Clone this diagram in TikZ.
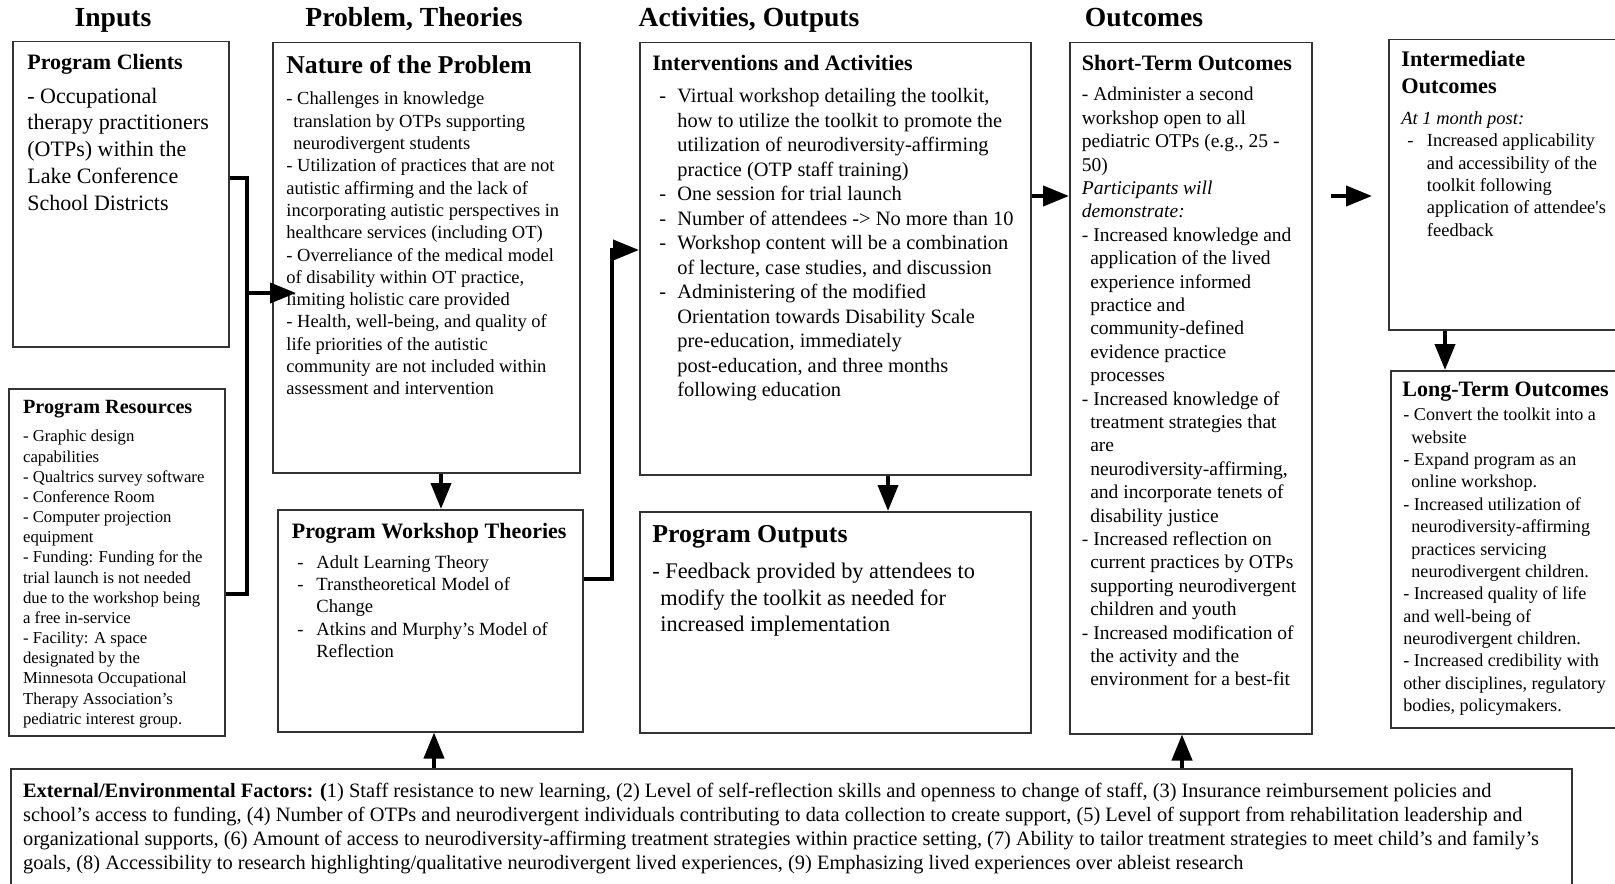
\documentclass[tikz,border=0pt]{standalone}
\usepackage{fontspec}
\setmainfont{Liberation Serif}
\usetikzlibrary{arrows.meta}

\newcommand{\fsz}[2]{\fontsize{#1}{#2}\selectfont}
\newcommand{\bulletdash}[1]{\makebox[#1][l]{-}}
\newcommand{\hangin}[1]{\hspace*{#1}}

\begin{document}
\begin{tikzpicture}[x=0.5pt, y=-0.5pt,
    box/.style={draw=black!80, line width=0.75pt, anchor=north west, inner sep=0pt},
    txt/.style={anchor=north west, inner sep=0pt, align=left},
    head/.style={font=\fsz{13.8}{16}\bfseries, inner sep=0pt, anchor=base},
    link/.style={line width=2pt},
    flow/.style={line width=2pt, -{Triangle[length=13pt, width=10pt]}}]
    \useasboundingbox (0,0) rectangle (1615,883);

    % column headings
    \node[head] (hinputs) at (113,27) {Inputs};
    \node[head] (hproblem) at (414,27) {Problem, Theories};
    \node[head] (hactivities) at (749,27) {Activities, Outputs};
    \node[head] (houtcomes) at (1144,27) {Outcomes};

    % boxes
    \node[box, minimum width=108pt, minimum height=152.5pt] (clients) at (12,41) {};
    \node[box, minimum width=108pt, minimum height=173.5pt] (resources) at (8,388) {};
    \node[box, minimum width=153.5pt, minimum height=215pt] (problem) at (272,42) {};
    \node[box, minimum width=152.5pt, minimum height=111pt] (theories) at (277,509) {};
    \node[box, minimum width=195.5pt, minimum height=216pt] (activities) at (639,42) {};
    \node[box, minimum width=195.5pt, minimum height=110.5pt] (outputs) at (639,511) {};
    \node[box, minimum width=121pt, minimum height=345.5pt] (shortterm) at (1069,42) {};
    \node[box, minimum width=125pt, minimum height=145pt] (interm) at (1388,39) {};
    \node[box, minimum width=125pt, minimum height=178.5pt] (longterm) at (1390,370) {};
    \node[box, minimum width=780.5pt, minimum height=65pt] (external) at (10,768) {};

    % inputs
    \node[txt, font=\fsz{11}{13.4}\bfseries] (clientsT) at (27,53.5) {Program Clients};
    \node[txt, font=\fsz{11}{13.4}] (clientsB) at (27,87.5) {- Occupational\\therapy practitioners\\(OTPs) within the\\Lake Conference\\School Districts};
    \node[txt, font=\fsz{10.1}{12}\bfseries] (resourcesT) at (22.7,400) {Program Resources};
    \node[txt, font=\fsz{8.35}{10.08}] (resourcesB) at (22.7,430) {- Graphic design\\capabilities\\- Qualtrics survey software\\- Conference Room\\- Computer projection\\equipment\\- Funding: Funding for the\\trial launch is not needed\\due to the workshop being\\a free in-service\\- Facility: A space\\designated by the\\Minnesota Occupational\\Therapy Association’s\\pediatric interest group.};

    % problem, theories
    \node[txt, font=\fsz{12.85}{15}\bfseries] (problemT) at (286,55) {Nature of the Problem};
    \node[txt, font=\fsz{9.25}{11.15}] (problemB) at (286,91.7) {- Challenges in knowledge\\\hangin{3.5pt}translation by OTPs supporting\\\hangin{3.5pt}neurodivergent students\\- Utilization of practices that are not\\autistic affirming and the lack of\\incorporating autistic perspectives in\\healthcare services (including OT)\\- Overreliance of the medical model\\of disability within OT practice,\\limiting holistic care provided\\- Health, well-being, and quality of\\life priorities of the autistic\\community are not included within\\assessment and intervention};
    \node[txt, font=\fsz{11}{13}\bfseries] (theoriesT) at (291.5,523) {Program Workshop Theories};
    \node[txt, font=\fsz{9.3}{11.17}] (theoriesB) at (297,554.7) {\bulletdash{9.5pt}Adult Learning Theory\\\bulletdash{9.5pt}Transtheoretical Model of\\\hangin{9.5pt}Change\\\bulletdash{9.5pt}Atkins and Murphy’s Model of\\\hangin{9.5pt}Reflection};

    % activities, outputs
    \node[txt, font=\fsz{11}{13}\bfseries] (activitiesT) at (652,54.5) {Interventions and Activities};
    \node[txt, font=\fsz{10.2}{12.25}] (activitiesB) at (659,88) {\bulletdash{9pt}Virtual workshop detailing the toolkit,\\\hangin{9pt}how to utilize the toolkit to promote the\\\hangin{9pt}utilization of neurodiversity-affirming\\\hangin{9pt}practice (OTP staff training)\\\bulletdash{9pt}One session for trial launch\\\bulletdash{9pt}Number of attendees -> No more than 10\\\bulletdash{9pt}Workshop content will be a combination\\\hangin{9pt}of lecture, case studies, and discussion\\\bulletdash{9pt}Administering of the modified\\\hangin{9pt}Orientation towards Disability Scale\\\hangin{9pt}pre-education, immediately\\\hangin{9pt}post-education, and three months\\\hangin{9pt}following education};
    \node[txt, font=\fsz{12.9}{15}\bfseries] (outputsT) at (652,524.7) {Program Outputs};
    \node[txt, font=\fsz{11.15}{13.4}] (outputsB) at (652,562.4) {- Feedback provided by attendees to\\\hangin{4pt}modify the toolkit as needed for\\\hangin{4pt}increased implementation};

    % outcomes
    \node[txt, font=\fsz{11}{13}\bfseries] (shorttermT) at (1081.5,54.5) {Short-Term Outcomes};
    \node[txt, font=\fsz{9.75}{11.7}] (shorttermB) at (1081.5,87) {- Administer a second\\workshop open to all\\pediatric OTPs (e.g., 25 -\\50)\\\textit{Participants will}\\\textit{demonstrate:}\\- Increased knowledge and\\\hangin{4.2pt}application of the lived\\\hangin{4.2pt}experience informed\\\hangin{4.2pt}practice and\\\hangin{4.2pt}community-defined\\\hangin{4.2pt}evidence practice\\\hangin{4.2pt}processes\\- Increased knowledge of\\\hangin{4.2pt}treatment strategies that\\\hangin{4.2pt}are\\\hangin{4.2pt}neurodiversity-affirming,\\\hangin{4.2pt}and incorporate tenets of\\\hangin{4.2pt}disability justice\\- Increased reflection on\\\hangin{4.2pt}current practices by OTPs\\\hangin{4.2pt}supporting neurodivergent\\\hangin{4.2pt}children and youth\\- Increased modification of\\\hangin{4.2pt}the activity and the\\\hangin{4.2pt}environment for a best-fit};
    \node[txt, font=\fsz{11.15}{13.4}\bfseries] (intermT) at (1401,51) {Intermediate\\Outcomes};
    \node[txt, font=\fsz{9.25}{11.2}] (intermB) at (1401,111) {\textit{At 1 month post:}\\\hangin{3pt}\bulletdash{9.75pt}Increased applicability\\\hangin{12.75pt}and accessibility of the\\\hangin{12.75pt}toolkit following\\\hangin{12.75pt}application of attendee\textquotesingle s\\\hangin{12.75pt}feedback};
    \node[txt, font=\fsz{11}{13}\bfseries] (longtermT) at (1402,381.5) {Long-Term Outcomes};
    \node[txt, font=\fsz{9.05}{11.17}] (longtermB) at (1403,408) {- Convert the toolkit into a\\\hangin{4pt}website\\- Expand program as an\\\hangin{4pt}online workshop.\\- Increased utilization of\\\hangin{4pt}neurodiversity-affirming\\\hangin{4pt}practices servicing\\\hangin{4pt}neurodivergent children.\\- Increased quality of life\\and well-being of\\neurodivergent children.\\- Increased credibility with\\other disciplines, regulatory\\bodies, policymakers.};

    % external factors
    \node[txt, font=\fsz{10.2}{12}] (externalB) at (22.7,783) {\textbf{External/Environmental Factors: (}1) Staff resistance to new learning, (2) Level of self-reflection skills and openness to change of staff, (3) Insurance reimbursement policies and\\school’s access to funding, (4) Number of OTPs and neurodivergent individuals contributing to data collection to create support, (5) Level of support from rehabilitation leadership and\\organizational supports, (6) Amount of access to neurodiversity-affirming treatment strategies within practice setting, (7) Ability to tailor treatment strategies to meet child’s and family’s\\goals, (8) Accessibility to research highlighting/qualitative neurodivergent lived experiences, (9) Emphasizing lived experiences over ableist research};

    % connectors
    \coordinate (bustop) at (247,178);
    \coordinate (busbot) at (247,594);
    \coordinate (bus) at (247,293);
    \draw[link] (clients.east |- bustop) -- (bustop) -- (busbot) -- (resources.east |- busbot);
    \draw[flow] (bus) -- ([xshift=12pt]problem.west |- bus);
    \draw[flow] (problem.south -| 441,0) -- (theories.north -| 441,0);
    \draw[flow] (theories.east |- 0,579) -- (612,579) -- (612,250) -- (activities.west |- 0,250);
    \draw[flow] (activities.south -| 888,0) -- (outputs.north -| 888,0);
    \draw[flow] (activities.east |- 0,196) -- (shortterm.west |- 0,196);
    \draw[flow] ([xshift=9pt]shortterm.east |- 0,196) -- ([xshift=-8pt]interm.west |- 0,196);
    \draw[flow] (interm.south -| 1445,0) -- (longterm.north -| 1445,0);
    \draw[flow] (external.north -| 434,0) -- (theories.south -| 434,0);
    \draw[flow] (external.north -| 1182,0) -- (shortterm.south -| 1182,0);
\end{tikzpicture}
\end{document}
